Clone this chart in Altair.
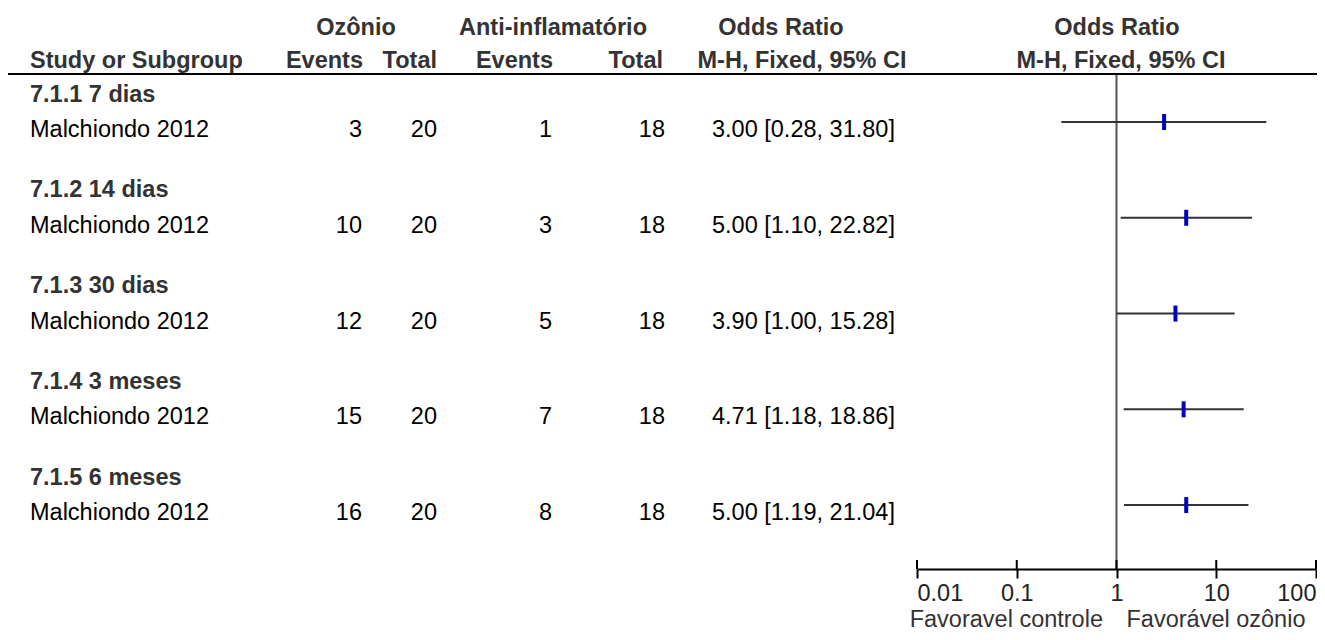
import altair as alt
import pandas as pd

# ---------------- data ----------------
groups = ["7.1.1 7 dias", "7.1.2 14 dias", "7.1.3 30 dias", "7.1.4 3 meses", "7.1.5 6 meses"]
studies = ["Malchiondo 2012"] * 5
oz_events = [3, 10, 12, 15, 16]
oz_total = [20, 20, 20, 20, 20]
anti_events = [1, 3, 5, 7, 8]
anti_total = [18, 18, 18, 18, 18]
odds_ratio = [3.00, 5.00, 3.90, 4.71, 5.00]
ci_low = [0.28, 1.10, 1.00, 1.18, 1.19]
ci_high = [31.80, 22.82, 15.28, 18.86, 21.04]
axis_ticks = [0.01, 0.1, 1, 10, 100]

group_pos = list(range(len(groups)))
study_pos = [g + 0.303 for g in group_pos]

df_groups = pd.DataFrame({"pos": group_pos, "label": groups})
df = pd.DataFrame({
    "pos": study_pos,
    "study": studies,
    "oz_e": oz_events,
    "oz_t": oz_total,
    "an_e": anti_events,
    "an_t": anti_total,
    "or": odds_ratio,
    "lo": ci_low,
    "hi": ci_high,
})
df["ci_text"] = [f"{o:.2f} [{l:.2f}, {h:.2f}]" for o, l, h in zip(odds_ratio, ci_low, ci_high)]
df_ticks = pd.DataFrame({"t": axis_ticks})
one = pd.DataFrame({"d": [0]})

# ---------------- layout / style ----------------
W, H = 1309, 561
FONT = "Liberation Sans"
FS = 23.5
HEAD = "#333333"

yscale = alt.Scale(domain=[-0.8877, 4.971], reverse=True, zero=False, nice=False)
xscale = alt.Scale(type="log", domain=[0.01, 100], range=[909, 1308], nice=False)
Y = alt.Y("pos:Q", scale=yscale, axis=None)


def header(text, x, y, align):
    return alt.Chart(one).mark_text(
        text=text, align=align, baseline="alphabetic", font=FONT, fontSize=FS,
        fontWeight="bold", color=HEAD,
    ).encode(x=alt.value(x), y=alt.value(y))


def col(field, x, align, dy=15):
    return alt.Chart(df).mark_text(
        align=align, baseline="alphabetic", dy=dy, font=FONT, fontSize=FS, color="#000000"
    ).encode(x=alt.value(x), y=Y, text=f"{field}:N")


headers = [
    header("Ozônio", 348, 27, "center"),
    header("Anti-inflamatório", 545, 27, "center"),
    header("Odds Ratio", 773, 27, "center"),
    header("Odds Ratio", 1109, 27, "center"),
    header("Study or Subgroup", 22, 60, "left"),
    header("Events", 355, 60, "right"),
    header("Total", 429, 60, "right"),
    header("Events", 545, 60, "right"),
    header("Total", 655, 60, "right"),
    header("M-H, Fixed, 95% CI", 794, 60, "center"),
    header("M-H, Fixed, 95% CI", 1113, 60, "center"),
]

header_line = alt.Chart(one).mark_rule(color="#000000", strokeWidth=2).encode(
    x=alt.value(0), x2=alt.value(W), y=alt.value(66)
)

group_text = alt.Chart(df_groups).mark_text(
    align="left", baseline="alphabetic", dy=8.5, font=FONT, fontSize=FS,
    fontWeight="bold", color=HEAD,
).encode(x=alt.value(22), y=Y, text="label:N")

cols = [
    col("study", 22, "left"),
    col("oz_e", 354, "right"),
    col("oz_t", 429, "right"),
    col("an_e", 544, "right"),
    col("an_t", 657, "right"),
    col("ci_text", 704, "left"),
]

ci_rule = alt.Chart(df).mark_rule(color="#333333", strokeWidth=2).encode(
    x=alt.X(
        "lo:Q",
        scale=xscale,
        axis=alt.Axis(
            values=axis_ticks, format="~g", labelFlush=True, labelOverlap=False,
            tickSize=9, tickWidth=2, tickColor="#000000", domainColor="#000000",
            domainWidth=2, labelFont=FONT, labelFontSize=FS, labelColor="#222222",
            labelPadding=3, grid=False, title=None,
        ),
    ),
    x2="hi:Q",
    y=Y,
)

markers = alt.Chart(df).mark_tick(
    color="#0000C0", thickness=4, size=16, orient="vertical", opacity=1
).encode(x=alt.X("or:Q", scale=xscale), y=Y)

null_line = alt.Chart(one).mark_rule(color="#555555", strokeWidth=2).encode(
    x=alt.datum(1), y=alt.value(66), y2=alt.value(H)
)

ticks_up = alt.Chart(df_ticks).mark_rule(color="#000000", strokeWidth=2).encode(
    x=alt.X("t:Q", scale=xscale), y=alt.value(H - 9), y2=alt.value(H)
)

fav_left = alt.Chart(one).mark_text(
    text="Favoravel controle", align="right", baseline="alphabetic", dx=-13.5,
    font=FONT, fontSize=FS, color="#333333",
).encode(x=alt.datum(1), y=alt.value(619))

fav_right = alt.Chart(one).mark_text(
    text="Favorável ozônio", align="left", baseline="alphabetic", dx=10,
    font=FONT, fontSize=FS, color="#333333",
).encode(x=alt.datum(1), y=alt.value(619))

chart = alt.layer(
    null_line, ci_rule, markers, ticks_up, header_line,
    *headers, group_text, *cols, fav_left, fav_right,
).properties(
    width=W,
    height=H,
    autosize=alt.AutoSizeParams(type="none"),
    padding={"left": 0, "top": 0, "right": 0, "bottom": 70},
).configure_view(stroke=None)

chart.save("out.html", embed_options={"renderer": "svg", "actions": False})
